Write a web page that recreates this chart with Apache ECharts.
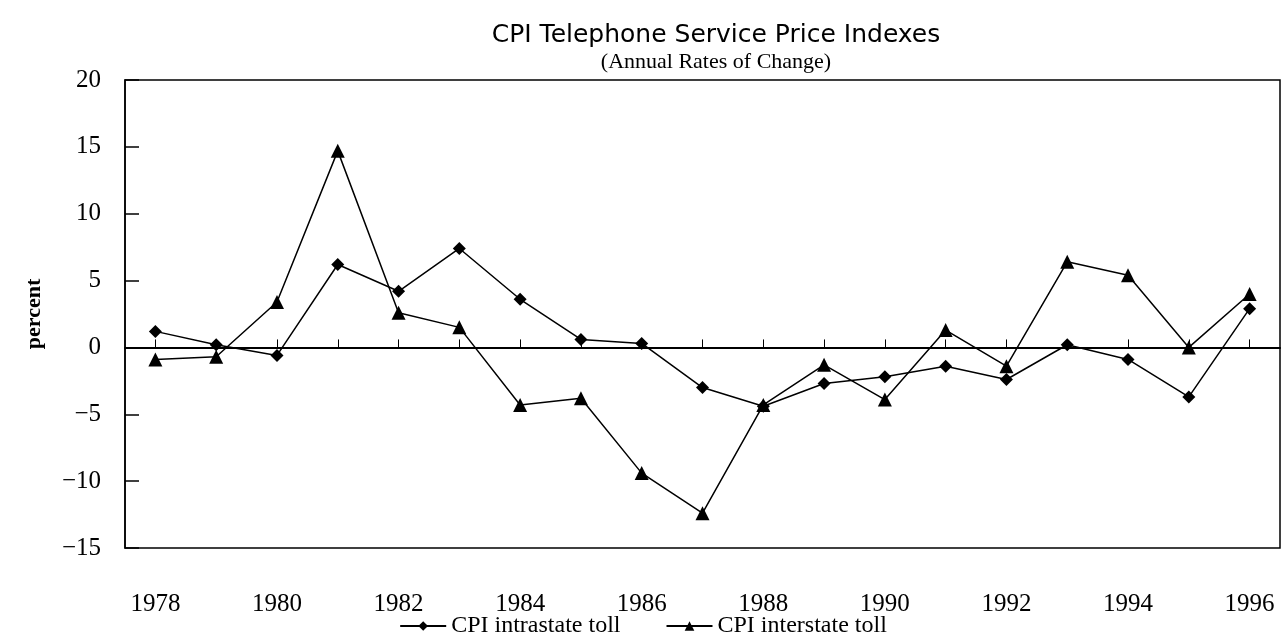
<!DOCTYPE html>
<html>
<head>
<meta charset="utf-8">
<style>html,body{margin:0;padding:0;background:#fff}#chart{width:1286px;height:643px}</style>
<script src="https://cdn.jsdelivr.net/npm/echarts@6/dist/echarts.min.js"></script>
</head>
<body>
<div id="chart"></div>
<script>
var years = ['1978','1979','1980','1981','1982','1983','1984','1985','1986','1987','1988','1989','1990','1991','1992','1993','1994','1995','1996'];
var intrastate = [1.2, 0.2, -0.6, 6.2, 4.2, 7.4, 3.6, 0.6, 0.3, -3.0, -4.4, -2.7, -2.2, -1.4, -2.4, 0.2, -0.9, -3.7, 2.9];
var interstate = [-0.9, -0.7, 3.4, 14.7, 2.6, 1.5, -4.3, -3.8, -9.4, -12.4, -4.3, -1.3, -3.9, 1.3, -1.4, 6.4, 5.4, 0.0, 4.0];

var serif = '"Liberation Serif", "DejaVu Serif", serif';
var chart = echarts.init(document.getElementById('chart'), null, {renderer:'canvas'});
chart.setOption({
  animation: false,
  backgroundColor: '#fff',
  title: [{
    text: 'CPI Telephone Service Price Indexes',
    left: 711, top: 18, textAlign: 'center',
    textStyle: {fontFamily: '"DejaVu Sans", "Liberation Sans", sans-serif', fontWeight: 'normal', fontSize: 25, color: '#000'}
  },{
    text: '(Annual Rates of Change)',
    left: 711, top: 46, textAlign: 'center',
    textStyle: {fontFamily: serif, fontWeight: 'normal', fontSize: 22, color: '#000'}
  }],
  grid: {left: 125, right: 6, top: 80, bottom: 95, show: true, borderColor: '#000', borderWidth: 1.5, backgroundColor: 'transparent'},
  legend: {
    bottom: 0, left: 'center', itemGap: 45, itemWidth: 46, itemHeight: 12,
    textStyle: {fontFamily: serif, fontSize: 24, color: '#000'},
    data: ['CPI intrastate toll', 'CPI interstate toll']
  },
  xAxis: {
    type: 'category', data: years, boundaryGap: true,
    axisLine: {show: true, lineStyle: {color: '#000', width: 2}},
    axisTick: {show: true, inside: true, alignWithLabel: true, interval: 0, length: 8, lineStyle: {color: '#000', width: 1}},
    axisLabel: {interval: 1, margin: 44, fontFamily: serif, fontSize: 25, color: '#000'},
    splitLine: {show: false}
  },
  yAxis: {
    type: 'value', min: -15, max: 20, interval: 5,
    name: 'percent', nameLocation: 'middle', nameGap: 80, nameRotate: 90,
    nameTextStyle: {fontFamily: serif, fontWeight: 'bold', fontSize: 22, color: '#000'},
    axisLine: {show: true, lineStyle: {color: '#000', width: 1.5}},
    axisTick: {show: true, inside: true, length: 14, lineStyle: {color: '#000', width: 1.5}},
    axisLabel: {
      margin: 24, fontFamily: serif, fontSize: 25, color: '#000',
      formatter: function(v){ return String(v).replace('-', '\u2212'); }
    },
    splitLine: {show: false}
  },
  series: [{
    name: 'CPI intrastate toll', type: 'line', data: intrastate,
    symbol: 'diamond', symbolSize: 13,
    lineStyle: {color: '#000', width: 1.5}, itemStyle: {color: '#000'},
    markLine: {silent: true, symbol: 'none', label: {show: false},
      lineStyle: {color: '#000', width: 2, type: 'solid'}, data: [{yAxis: 0}]}
  },{
    name: 'CPI interstate toll', type: 'line', data: interstate,
    symbol: 'triangle', symbolSize: 14,
    lineStyle: {color: '#000', width: 1.5}, itemStyle: {color: '#000'}
  }]
});
</script>
</body>
</html>
